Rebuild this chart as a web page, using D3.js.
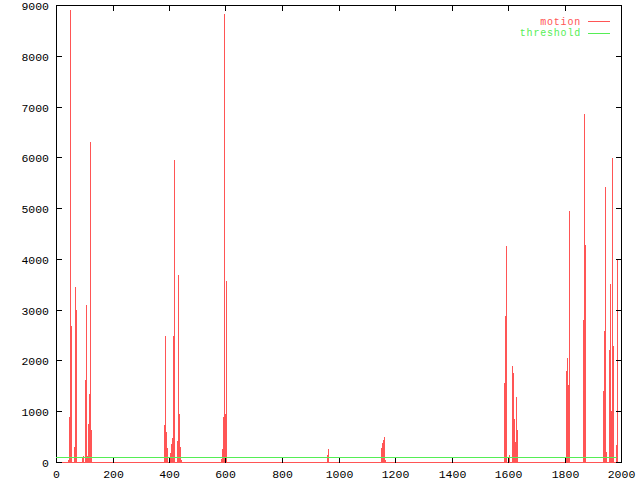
<!DOCTYPE html>
<html><head><meta charset="utf-8">
<script src="https://cdn.jsdelivr.net/npm/d3@7"></script>
<style>body{margin:0;background:#fff}svg{display:block}</style>
</head><body><svg id="c" width="640" height="480"></svg>
<script>
const xTicks = [0,200,400,600,800,1000,1200,1400,1600,1800,2000];
const yTicks = [0,1000,2000,3000,4000,5000,6000,7000,8000,9000];
const motionX = [42,46,50,53,57,64,67,71,92,96,103,106,110,113,117,120,124,
  382,386,389,393,404,407,411,414,418,428,432,435,439,442,
  584,588,591,595,598,602,
  959,963,
  1150,1154,1157,1161,1165,
  1586,1589,1593,1604,1614,1618,1621,1625,1628,1632,
  1805,1809,1812,1816,
  1865,1869,1873,
  1936,1940,1943,1947,1958,1961,1965,1968,1972,1982,1986];
const motionY = [40,893,8895,2682,0,302,3438,2998,75,125,1617,3097,118,750,1341,6298,631,
  730,2472,598,282,184,355,467,2485,5957,414,3688,947,302,40,
  60,256,890,8823,947,3556,
  138,256,
  270,380,430,500,30,
  1560,2880,4260,140,1900,1750,850,400,1280,630,
  1800,2050,1520,4950,
  2787,6844,4280,
  1400,2584,5418,203,2196,3511,1012,5995,2290,340,3984];
const thresholdValue = 100;
const dataStart = 0, dataEnd = 1987;
const seriesNames = ["motion","threshold"];
const seriesColors = ["#ff5555","#55ee55"];

const svg = d3.select("#c");
const x = d3.scaleLinear().domain([0,2000]).range([56,621]);
const y = d3.scaleLinear().domain([0,9000]).range([462,5]);
const font = "'Liberation Mono','DejaVu Sans Mono',monospace";

// motion bars
const pts = motionX.map((d,i)=>({x:d,v:motionY[i]}));
svg.append("g").selectAll("rect").data(pts.filter(d=>d.v>0)).join("rect")
  .attr("x", d=>Math.round(x(d.x)))
  .attr("width", 1)
  .attr("y", d=>Math.round(y(d.v)))
  .attr("height", d=>462 - Math.round(y(d.v)) + 1)
  .attr("fill", seriesColors[0])
  .attr("shape-rendering","crispEdges");

// border
svg.append("rect").attr("x",56.5).attr("y",5.5).attr("width",565).attr("height",457)
  .attr("fill","none").attr("stroke","#000").attr("shape-rendering","crispEdges");

// motion baseline
const line = d3.line().x(d=>x(d[0])).y(d=>Math.round(y(d[1]))+0.5);
svg.append("path").attr("d", line([[dataStart,0],[dataEnd,0]]))
  .attr("stroke",seriesColors[0]).attr("fill","none").attr("shape-rendering","crispEdges");

// ticks
const tg = svg.append("g").attr("stroke","#000").attr("shape-rendering","crispEdges");
yTicks.forEach(t=>{
  const yy = Math.round(y(t))+0.5;
  tg.append("line").attr("x1",56).attr("x2",62).attr("y1",yy).attr("y2",yy);
  tg.append("line").attr("x1",616).attr("x2",622).attr("y1",yy).attr("y2",yy);
});
xTicks.forEach(t=>{
  const xx = Math.round(x(t))+0.5;
  tg.append("line").attr("x1",xx).attr("x2",xx).attr("y1",457).attr("y2",463);
  tg.append("line").attr("x1",xx).attr("x2",xx).attr("y1",5).attr("y2",11);
});

// threshold line
svg.append("path").attr("d", line([[dataStart,thresholdValue],[dataEnd,thresholdValue]]))
  .attr("stroke",seriesColors[1]).attr("fill","none").attr("shape-rendering","crispEdges");

// labels
svg.append("g").selectAll("text").data(yTicks).join("text")
  .attr("x",49).attr("y",d=>Math.round(y(d))+0.5).attr("dy","0.36em")
  .attr("text-anchor","end").attr("font-family",font).attr("font-size","11.5px")
  .text(d=>d);
svg.append("g").selectAll("text").data(xTicks).join("text")
  .attr("x",d=>Math.round(x(d))+0.5).attr("y",474).attr("dy","0.36em")
  .attr("text-anchor","middle").attr("font-family",font).attr("font-size","11.5px")
  .text(d=>d);

// legend
seriesNames.forEach((n,i)=>{
  const ly = 21 + i*11.5;
  svg.append("text").attr("x",581).attr("y",ly).attr("dy","0.36em").attr("text-anchor","end")
    .attr("font-family",font).attr("font-size","10px").attr("letter-spacing","0.8px")
    .attr("fill",seriesColors[i]).text(n);
  svg.append("line").attr("x1",588).attr("x2",610).attr("y1",Math.round(ly)+0.5).attr("y2",Math.round(ly)+0.5)
    .attr("stroke",seriesColors[i]).attr("shape-rendering","crispEdges");
});
</script></body></html>
